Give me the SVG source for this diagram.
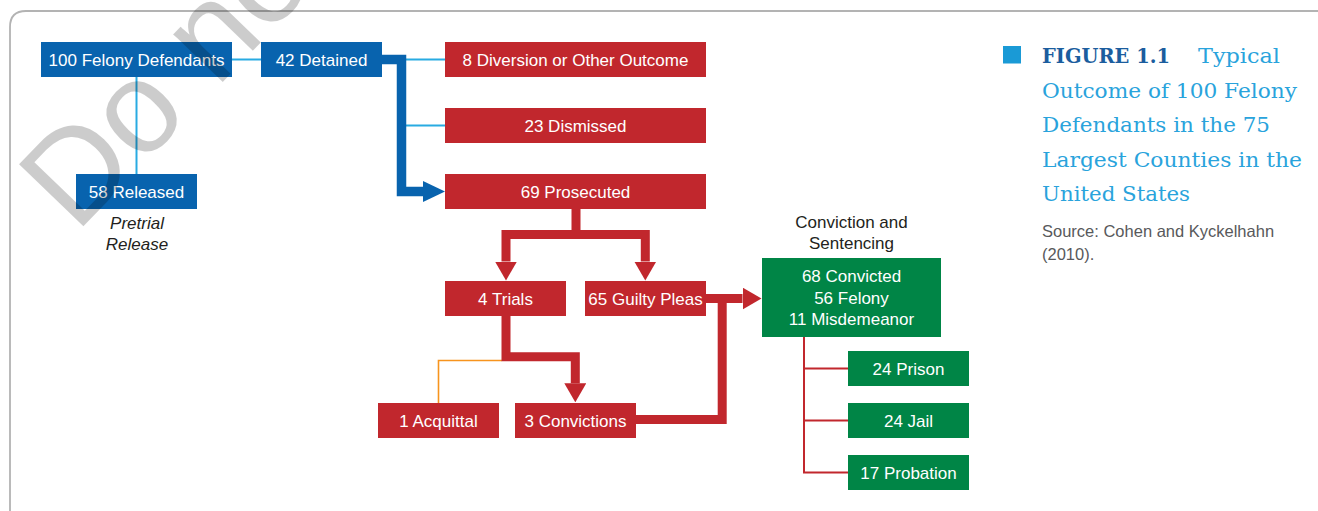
<svg xmlns="http://www.w3.org/2000/svg" width="1318" height="511" viewBox="0 0 1318 511">
<style>
.box-b{fill:#0863ae}
.box-r{fill:#c1272d}
.box-g{fill:#008546}
.t{font-family:"Liberation Sans",Arial,sans-serif;font-size:17px;fill:#ffffff;text-anchor:middle}
.lbl{font-family:"Liberation Sans",Arial,sans-serif;font-size:17px;fill:#231f20;text-anchor:middle}
.thinb{fill:none;stroke:#29abe2;stroke-width:2}
.thickb{fill:none;stroke:#0863ae;stroke-width:9.5;stroke-linejoin:miter}
.thickr{fill:none;stroke:#c1272d;stroke-width:9;stroke-linejoin:miter}
.thinr{fill:none;stroke:#c1272d;stroke-width:2}
.cap{font-family:"DejaVu Serif","Liberation Serif",serif;font-size:20px;fill:#29a3dc}
.src{font-family:"Liberation Sans",Arial,sans-serif;font-size:16.5px;fill:#58595b}
</style>
<defs>
<marker id="ab" viewBox="0 0 22 21" refX="0" refY="10.5" markerWidth="22" markerHeight="21" markerUnits="userSpaceOnUse" orient="auto"><path d="M0,0 L22,10.5 L0,21 z" fill="#0863ae"/></marker>
<marker id="ar" viewBox="0 0 19 22" refX="0" refY="11" markerWidth="19" markerHeight="22" markerUnits="userSpaceOnUse" orient="auto"><path d="M0,0 L19,11 L0,22 z" fill="#c1272d"/></marker>
</defs>
<rect width="1318" height="511" fill="#ffffff"/>
<path d="M10,511 V27 Q10,11 26,11 H1318" fill="none" stroke="#b3b3b3" stroke-width="1.8"/>

<g id="connectors">
<path class="thinb" d="M232,59.5 H261"/>
<path class="thinb" d="M136.5,77 V174"/>
<path class="thinb" d="M405,59.5 H445"/>
<path class="thinb" d="M405,125.5 H445"/>
<path class="thickb" d="M382,59.5 H401.5 V191.5 H423" marker-end="url(#ab)"/>
<path class="thickr" d="M576,209 V234.6 H506 V261.5" marker-end="url(#ar)"/>
<path class="thickr" d="M576,234.6 H645.3 V261.5" marker-end="url(#ar)"/>
<path d="M502,360.5 H438.5 V403" fill="none" stroke="#f7941d" stroke-width="1.6"/>
<path class="thickr" d="M506,316 V356.7 H575.3 V383.3" marker-end="url(#ar)"/>
<path class="thickr" d="M636,419.5 H722.2 V298.5"/>
<path class="thickr" d="M706,298.5 H742.5" marker-end="url(#ar)"/>
<path class="thinr" d="M804,337 V472.5 H848"/>
<path class="thinr" d="M804,368.5 H848"/>
<path class="thinr" d="M804,420.5 H848"/>
</g>

<g id="n100"><rect class="box-b" x="41" y="42" width="191" height="35"/><text class="t" x="136.5" y="65.5">100 Felony Defendants</text></g>
<g id="n42"><rect class="box-b" x="261" y="42" width="121" height="35"/><text class="t" x="321.5" y="65.5">42 Detained</text></g>
<g id="n58"><rect class="box-b" x="76" y="174" width="121" height="35"/><text class="t" x="136.5" y="197.5">58 Released</text>
<text class="lbl" x="137" y="229" font-style="italic">Pretrial</text><text class="lbl" x="137" y="250" font-style="italic">Release</text></g>
<g id="n8"><rect class="box-r" x="445" y="42" width="261" height="35"/><text class="t" x="575.5" y="65.5">8 Diversion or Other Outcome</text></g>
<g id="n23"><rect class="box-r" x="445" y="108" width="261" height="35"/><text class="t" x="575.5" y="131.5">23 Dismissed</text></g>
<g id="n69"><rect class="box-r" x="445" y="174" width="261" height="35"/><text class="t" x="575.5" y="197.5">69 Prosecuted</text></g>
<g id="n4"><rect class="box-r" x="445" y="281" width="121" height="35"/><text class="t" x="505.5" y="304.5">4 Trials</text></g>
<g id="n65"><rect class="box-r" x="585" y="281" width="121" height="35"/><text class="t" x="645.5" y="304.5">65 Guilty Pleas</text></g>
<g id="n1"><rect class="box-r" x="378" y="403" width="121" height="35"/><text class="t" x="438.5" y="426.5">1 Acquittal</text></g>
<g id="n3"><rect class="box-r" x="515" y="403" width="121" height="35"/><text class="t" x="575.5" y="426.5">3 Convictions</text></g>
<g id="n68"><text class="lbl" x="851.5" y="227.5">Conviction and</text><text class="lbl" x="851.5" y="249">Sentencing</text>
<rect class="box-g" x="762" y="258" width="179" height="79"/>
<text class="t" x="851.5" y="281.8">68 Convicted</text><text class="t" x="851.5" y="303.6">56 Felony</text><text class="t" x="851.5" y="324.6">11 Misdemeanor</text></g>
<g id="n24p"><rect class="box-g" x="848" y="351" width="121" height="35"/><text class="t" x="908.5" y="374.5">24 Prison</text></g>
<g id="n24j"><rect class="box-g" x="848" y="403" width="121" height="35"/><text class="t" x="908.5" y="426.5">24 Jail</text></g>
<g id="n17"><rect class="box-g" x="848" y="455" width="121" height="35"/><text class="t" x="908.5" y="478.5">17 Probation</text></g>

<g id="caption">
<rect x="1003" y="46" width="18" height="17.5" fill="#1a9ad6"/>
<text class="cap" x="1042" y="63.3" font-weight="bold" textLength="128" lengthAdjust="spacingAndGlyphs" style="fill:#1b5d9e">FIGURE 1.1</text>
<text class="cap" x="1198" y="63.3" textLength="82" lengthAdjust="spacingAndGlyphs">Typical</text>
<text class="cap" x="1042" y="97.7" textLength="255" lengthAdjust="spacingAndGlyphs">Outcome of 100 Felony</text>
<text class="cap" x="1042" y="132" textLength="228" lengthAdjust="spacingAndGlyphs">Defendants in the 75</text>
<text class="cap" x="1042" y="166.5" textLength="260" lengthAdjust="spacingAndGlyphs">Largest Counties in the</text>
<text class="cap" x="1042" y="201" textLength="148" lengthAdjust="spacingAndGlyphs">United States</text>
<text class="src" x="1042" y="236.7">Source: Cohen and Kyckelhahn</text>
<text class="src" x="1042" y="260">(2010).</text>
</g>

<text x="0" y="0" transform="translate(76,234) rotate(-46)" font-family="'Liberation Sans',Arial,sans-serif" font-size="130" fill="#000000" fill-opacity="0.2">Do not</text>
</svg>
